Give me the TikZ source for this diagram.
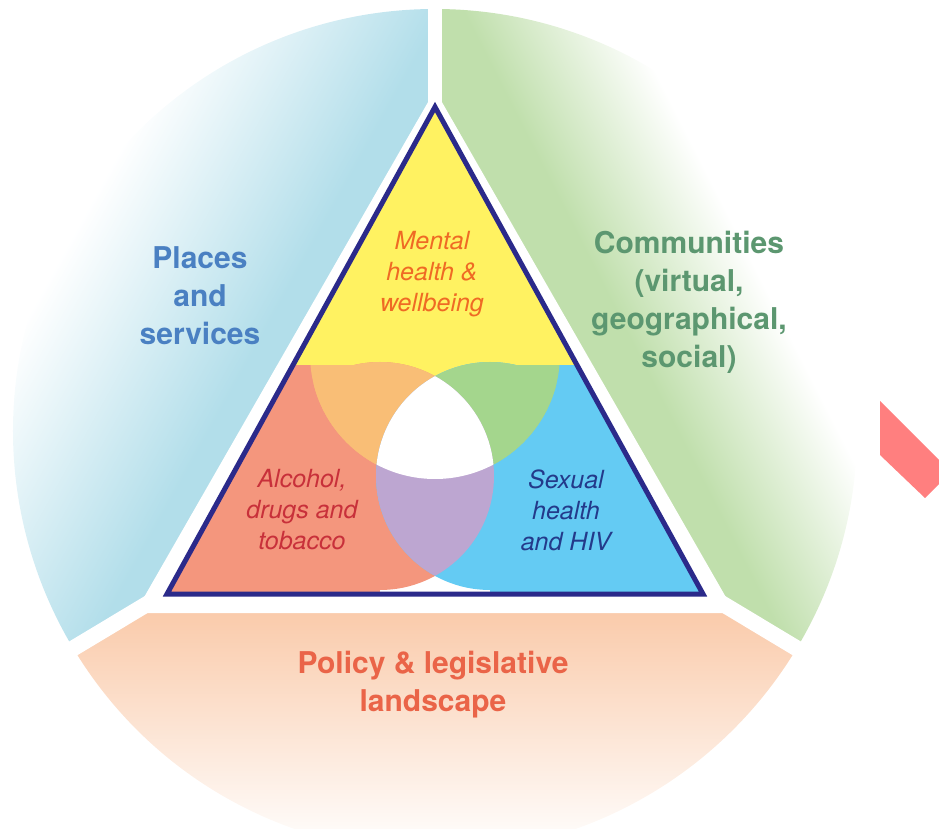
\documentclass[tikz,border=0pt]{standalone}
\usepackage{fontspec}
\setmainfont{TeX Gyre Heros}
\definecolor{navyline}{HTML}{2B2A8A}
\definecolor{skyband}{HTML}{B2DEEA}
\definecolor{leafband}{HTML}{C0DFAC}
\definecolor{peachband}{HTML}{F9C4A0}
\definecolor{yellowzone}{HTML}{FFF261}
\definecolor{redzone}{HTML}{F4967D}
\definecolor{bluezone}{HTML}{64CBF3}
\definecolor{orangezone}{HTML}{F9BE76}
\definecolor{greenzone}{HTML}{A4D68D}
\definecolor{purplezone}{HTML}{BDA6D1}
\definecolor{placestext}{HTML}{4A80C2}
\definecolor{commtext}{HTML}{5C9770}
\definecolor{policytext}{HTML}{EA6448}
\definecolor{mentaltext}{HTML}{EF6A24}
\definecolor{alcoholtext}{HTML}{C8303A}
\definecolor{sexualtext}{HTML}{233A8A}
\definecolor{chevron}{HTML}{FF7F7F}
\pgfdeclareverticalshading{placesfade}{100bp}{color(0bp)=(skyband); color(61bp)=(skyband); color(73bp)=(white); color(100bp)=(white)}
\pgfdeclareverticalshading{commfade}{100bp}{color(0bp)=(leafband); color(62bp)=(leafband); color(70bp)=(white); color(100bp)=(white)}
\usetikzlibrary{calc}
\begin{document}
\begin{tikzpicture}[x=1pt,y=1pt,
    sectorlabel/.style={align=center,font=\bfseries\fontsize{30}{38}\selectfont},
    zonelabel/.style={align=center,font=\itshape\fontsize{25}{31}\selectfont},
    gapline/.style={draw=white,line width=16pt}]
  \useasboundingbox (-435,-398) rectangle (504,431);
  \clip (-435,-398) rectangle (504,431);
  \coordinate (O) at (0,0);
  \coordinate (A) at (0,324);
  \coordinate (B) at (-268,-163);
  \coordinate (C) at (268,-163);
  \coordinate (Y) at (0,77);
  \coordinate (R) at (-55,-45);
  \coordinate (S) at (55,-45);
  \begin{scope}
    \clip (O) -- (90:422) arc[start angle=90,end angle=211,radius=422pt] -- cycle;
    \shade[shading=placesfade,shading angle=61] (-450,-450) rectangle (450,450);
  \end{scope}
  \begin{scope}
    \clip (O) -- (-31:422) arc[start angle=-31,end angle=90,radius=422pt] -- cycle;
    \shade[shading=commfade,shading angle=-63] (-450,-450) rectangle (450,450);
  \end{scope}
  \begin{scope}
    \clip (O) -- (211:422) arc[start angle=211,end angle=329,radius=422pt] -- cycle;
    \shade[top color=peachband,bottom color=white] (-430,-420) rectangle (430,-150);
  \end{scope}
  \draw[gapline,line width=14pt] (O) -- (90:440);
  \draw[gapline] (O) -- (211:440);
  \draw[gapline] (O) -- (-31:440);
  \fill[white] (0,341) -- (-300,-182) -- (300,-182) -- cycle;
  \begin{scope}
    \clip (A) -- (B) -- (C) -- cycle;
    \fill[yellowzone] (Y) circle[radius=125pt];
    \fill[yellowzone] (-300,66) rectangle (300,340);
    \fill[redzone] (R) circle[radius=114pt];
    \fill[redzone] (-300,-200) rectangle (-55,66);
    \fill[bluezone] (S) circle[radius=114pt];
    \fill[bluezone] (55,-200) rectangle (300,66);
    \begin{scope}
      \clip (Y) circle[radius=125pt];
      \fill[orangezone] (R) circle[radius=114pt];
      \fill[orangezone] (-300,-200) rectangle (-55,66);
      \fill[greenzone] (S) circle[radius=114pt];
      \fill[greenzone] (55,-200) rectangle (300,66);
    \end{scope}
    \begin{scope}
      \clip (R) circle[radius=114pt];
      \fill[purplezone] (S) circle[radius=114pt];
      \clip (Y) circle[radius=125pt];
      \fill[white] (S) circle[radius=114pt];
    \end{scope}
  \end{scope}
  \draw[navyline,line width=5pt,line join=miter] (A) -- (B) -- (C) -- cycle;
  \fill[chevron] (445,30) -- (516,-41) -- (490,-67) -- (445,-24) -- cycle;
  \node[sectorlabel,text=placestext] (places) at (-235,135) {Places\\and\\services};
  \node[sectorlabel,text=commtext] (communities) at (254,129) {Communities\\(virtual,\\geographical,\\social)};
  \node[sectorlabel,text=policytext] (policy) at (-2,-254) {Policy \& legislative\\landscape};
  \node[zonelabel,text=mentaltext] (mental) at (-3,157) {Mental\\health \&\\wellbeing};
  \node[zonelabel,text=alcoholtext] (alcohol) at (-133,-79) {Alcohol,\\drugs and\\tobacco};
  \node[zonelabel,text=sexualtext] (sexual) at (131,-79) {Sexual\\health\\and HIV};
\end{tikzpicture}
\end{document}
